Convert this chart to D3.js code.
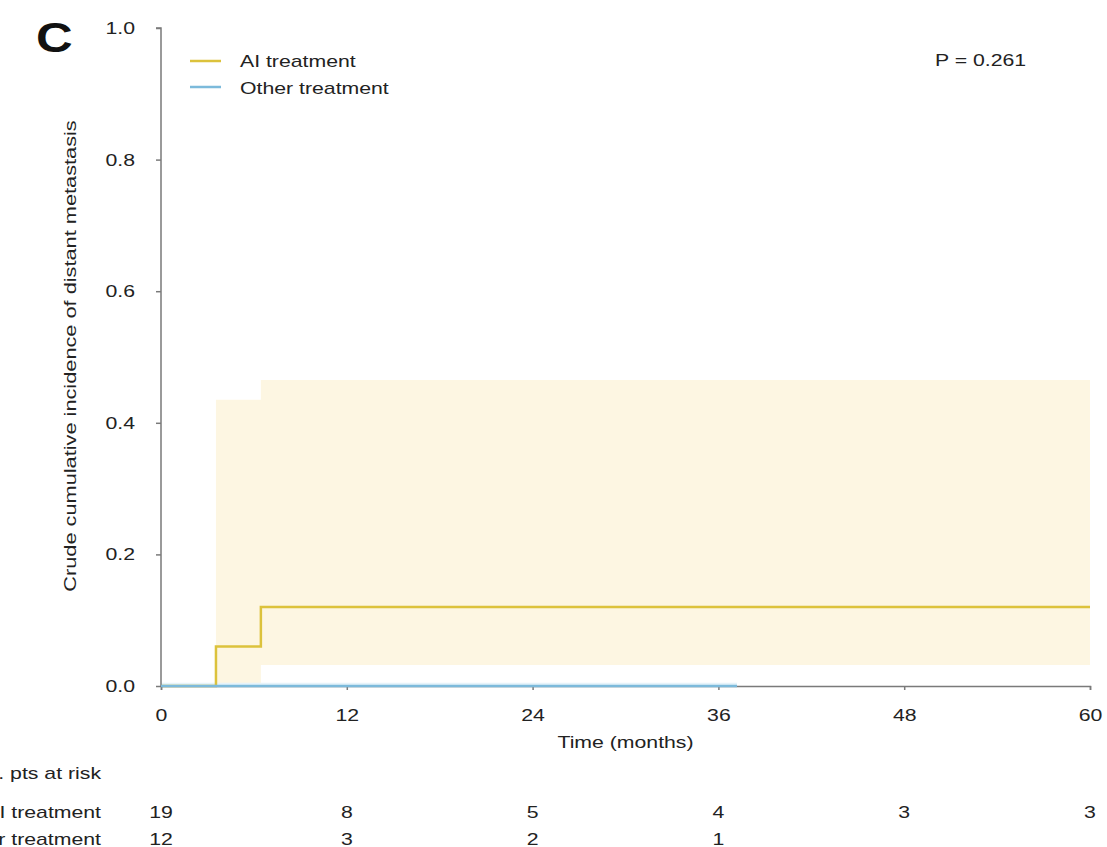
<!DOCTYPE html>
<html>
<head>
<meta charset="utf-8">
<script src="https://cdn.jsdelivr.net/npm/d3@7"></script>
<style>
  html, body { margin: 0; padding: 0; background: #fff; }
  svg { display: block; font-family: "Liberation Sans", Arial, sans-serif; }
</style>
</head>
<body>
<svg id="chart" width="1107" height="847"></svg>
<script>
// Cumulative incidence step functions (time in months)
const aiTimes  = [0, 3.55, 6.45, 60];
const aiValues = [0, 0.06, 0.12, 0.12];
// 95% confidence band for the AI group, starting at the first event
const aiBandTimes = [3.55, 6.45, 60];
const aiLower     = [0.002, 0.032, 0.032];
const aiUpper     = [0.435, 0.465, 0.465];

const otherTimes  = [0, 37.2];
const otherValues = [0, 0];
const otherLower  = [0, 0];
const otherUpper  = [0.005, 0.005];

const xTicks = [0, 12, 24, 36, 48, 60];
const yTicks = [0, 0.2, 0.4, 0.6, 0.8, 1.0];

const riskTimes = [0, 12, 24, 36, 48, 60];
const aiRisk    = [19, 8, 5, 4, 3, 3];
const otherRisk = [12, 3, 2, 1];

const seriesNames = ["AI treatment", "Other treatment"];
const pText = "P = 0.261";

const colAI = "#dcc23c";
const colOther = "#7cbadb";
const bandAI = "#fdf6e2";
const bandOther = "#e6f3fa";
const axisCol = "#7a7a7a";
const textCol = "#222";
const FS = 17;      // base font size
const WIDE = 1.25;  // horizontal widening of the lettering

const svg = d3.select("#chart");
const x = d3.scaleLinear().domain([0, 60]).range([161, 1090]);
const y = d3.scaleLinear().domain([0, 1]).range([686, 28]);

// Widened text placed at (px, py)
function label(px, py, str, anchor = "start", size = FS, extra = "") {
  return svg.append("text")
    .attr("transform", `translate(${px},${py}) ${extra} scale(${WIDE},1)`)
    .attr("text-anchor", anchor).attr("font-size", size).attr("fill", textCol)
    .text(str);
}

// Confidence bands
const band = d3.area()
  .x(d => x(d.t)).y0(d => y(d.lo)).y1(d => y(d.hi))
  .curve(d3.curveStepAfter);
svg.append("path")
  .datum(aiBandTimes.map((t, i) => ({t, lo: aiLower[i], hi: aiUpper[i]})))
  .attr("d", band).attr("fill", bandAI);
svg.append("path")
  .datum(otherTimes.map((t, i) => ({t, lo: otherLower[i], hi: otherUpper[i]})))
  .attr("d", band).attr("fill", bandOther);

// Step curves
const step = d3.line().x(d => x(d.t)).y(d => y(d.v)).curve(d3.curveStepAfter);
svg.append("path")
  .datum(aiTimes.map((t, i) => ({t, v: aiValues[i]})))
  .attr("d", step).attr("fill", "none").attr("stroke", colAI).attr("stroke-width", 2.5);

// Axes
const yAxis = svg.append("g").attr("transform", `translate(${x(0)},0)`)
  .call(d3.axisLeft(y).tickValues(yTicks).tickFormat(d3.format(".1f")).tickSize(5).tickPadding(21));
const xAxis = svg.append("g").attr("transform", `translate(0,${y(0)})`)
  .call(d3.axisBottom(x).tickValues(xTicks).tickSize(4).tickPadding(19));
[yAxis, xAxis].forEach(g => {
  g.select(".domain").attr("stroke", axisCol).attr("stroke-width", 1.5);
  g.selectAll(".tick line").attr("stroke", axisCol).attr("stroke-width", 1.5);
  g.selectAll(".tick text").attr("fill", textCol).attr("font-size", FS)
    .attr("font-family", "'Liberation Sans', Arial, sans-serif")
    .each(function () {
      const t = d3.select(this);
      t.attr("x", (+t.attr("x") || 0) / WIDE).attr("transform", `scale(${WIDE},1)`);
    });
});
yAxis.select(".domain").attr("d", `M-5,${y(1)}H0V${y(0)}`);

svg.append("path")
  .datum(otherTimes.map((t, i) => ({t, v: otherValues[i]})))
  .attr("d", step).attr("fill", "none").attr("stroke", colOther).attr("stroke-width", 2.5);

// Axis titles
label((x(0) + x(60)) / 2, 748, "Time (months)", "middle");
label(76, 356, "Crude cumulative incidence of distant metastasis", "middle", FS, "rotate(-90)")
  .attr("transform", `translate(76,356) rotate(-90) scale(1.28,1)`);

// Panel letter
svg.append("text").attr("transform", "translate(36,52) scale(1.18,1)")
  .attr("font-size", 43).attr("font-weight", "bold").attr("fill", "#111").text("C");

// Legend
[colAI, colOther].forEach((c, i) => {
  svg.append("line").attr("x1", 190).attr("x2", 221)
    .attr("y1", 61 + i * 26).attr("y2", 61 + i * 26)
    .attr("stroke", c).attr("stroke-width", 2.5);
  label(240, 67 + i * 27, seriesNames[i]);
});

label(935, 66, pText);

// Numbers at risk table
label(101, 779, "No. pts at risk", "end");
[aiRisk, otherRisk].forEach((row, r) => {
  const yy = 818 + r * 27;
  label(101, yy, seriesNames[r], "end");
  row.forEach((d, i) => label(x(riskTimes[i]), yy, String(d), "middle"));
});
</script>
</body>
</html>
